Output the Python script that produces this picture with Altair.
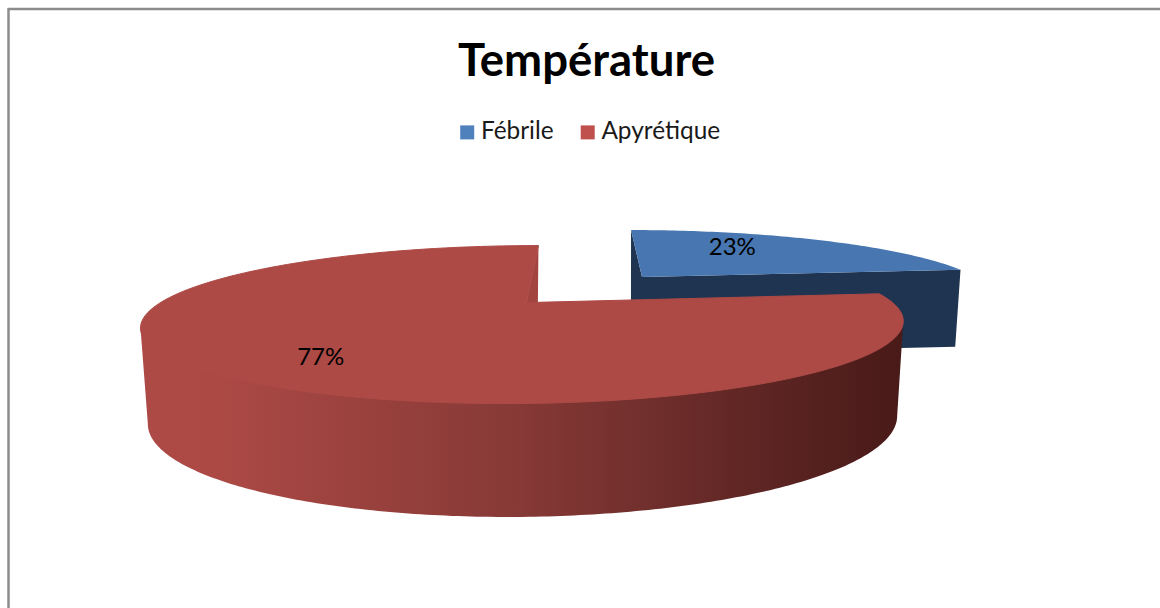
import altair as alt
import numpy as np
import pandas as pd

# Values of the chart
categories = ["Fébrile", "Apyrétique"]
shares = [23, 77]
labels = ["23%", "77%"]
legend_colors = ["#4F81BD", "#C0504D"]

CANVAS_W, CANVAS_H = 1160, 608
DEPTH_K = 0.278  # perspective strength of the tilted disc

# Projection planes of the two exploded slices: vertex, semi-axes, skew
RED_TOP = dict(x0=526.5, y0=302.6, a=366, b=72.9, c=15.3)
RED_LOW = dict(x0=526.7, y0=393, a=359.6, b=89.5, c=14)
BLUE_TOP = dict(x0=642, y0=277, a=334, b=60, c=-14)
BLUE_LOW = dict(x0=638, y0=354, a=332, b=60, c=-9)


def project(plane, angle_deg, r=1.0):
    """Clockwise angle from twelve o'clock to canvas coordinates."""
    t = np.radians(np.asarray(angle_deg, dtype=float))
    u, v = r * np.sin(t), r * np.cos(t)
    s = 1 / (1 + DEPTH_K * v)
    return plane["x0"] + (plane["a"] * u + plane["c"] * v) * s, plane["y0"] - plane["b"] * v * s


def polygon(xs, ys):
    return pd.DataFrame({"x": xs, "y": ys, "i": np.arange(len(xs))})


def silhouette(plane, start, stop):
    """Arc of a plane between its rightmost and leftmost points."""
    t = np.linspace(start, stop, 721)
    x, _ = project(plane, t)
    t = np.linspace(t[np.argmax(x)], t[np.argmin(x)], 200)
    return project(plane, t)


blue_end = 360 * shares[0] / sum(shares)

x_scale = alt.Scale(domain=[0, CANVAS_W], range=[0, CANVAS_W], nice=False, zero=False)
y_scale = alt.Scale(domain=[0, CANVAS_H], range=[0, CANVAS_H], nice=False, zero=False)
x_enc = alt.X("x:Q", scale=x_scale, axis=None)
y_enc = alt.Y("y:Q", scale=y_scale, axis=None)


def face(df, fill, edge=None):
    style = dict(stroke=edge, strokeWidth=1) if edge else dict(stroke=None, strokeWidth=0)
    return alt.Chart(df).mark_line(fill=fill, **style).encode(x=x_enc, y=y_enc, order="i:Q")


# Blue slice: dark walls, then its top face
bx0, by0 = project(BLUE_TOP, 0)
bx1, by1 = project(BLUE_TOP, blue_end)
lx0, ly0 = project(BLUE_LOW, 0)
lx1, ly1 = project(BLUE_LOW, blue_end)
blue_wall = polygon(
    [bx0, BLUE_TOP["x0"], bx1, lx1, BLUE_LOW["x0"], lx0],
    [by0, BLUE_TOP["y0"], by1, ly1, BLUE_LOW["y0"], ly0],
)
ax, ay = project(BLUE_TOP, np.linspace(0, blue_end, 80))
blue_top = polygon(np.r_[BLUE_TOP["x0"], ax], np.r_[BLUE_TOP["y0"], ay])

# Red slice: curved wall with shading, inner cut wall, top face.
# The wall's upper side is a chord because the top face covers it.
tx, ty = silhouette(RED_TOP, blue_end, 360)
wx, wy = silhouette(RED_LOW, blue_end, 360)
red_wall = polygon(np.r_[tx[0], tx[-1], wx[::-1]], np.r_[ty[0], ty[-1], wy[::-1]])
rx0, ry0 = project(RED_TOP, 0)
rl0, rm0 = project(RED_LOW, 0)
red_cut = polygon([RED_TOP["x0"], rx0, rl0], [RED_TOP["y0"], ry0, rm0])
qx, qy = project(RED_TOP, np.linspace(blue_end, 360, 240))
red_top = polygon(
    np.r_[RED_TOP["x0"], qx, RED_TOP["x0"]],
    np.r_[RED_TOP["y0"], qy, RED_TOP["y0"]],
)

wall_shade = alt.Gradient(
    gradient="linear",
    x1=0, x2=1, y1=0, y2=0,
    stops=[
        alt.GradientStop(offset=0.0, color="#AE4A46"),
        alt.GradientStop(offset=0.1, color="#AC4945"),
        alt.GradientStop(offset=0.5, color="#863936"),
        alt.GradientStop(offset=0.8, color="#5F2624"),
        alt.GradientStop(offset=1.0, color="#481A18"),
    ],
)

# Percentage labels sit at the middle angle of each slice
mid_blue = blue_end / 2
mid_red = blue_end + (360 - blue_end) / 2
lx_b, ly_b = project(BLUE_TOP, mid_blue, 0.5)
lx_r, ly_r = project(RED_TOP, mid_red, 0.7)
label_df = pd.DataFrame({
    "x": [lx_b - 5, lx_r + 2],
    "y": [ly_b - 9, ly_r + 11],
    "label": labels,
})
label_layer = alt.Chart(label_df).mark_text(
    font="Lato", fontSize=24, color="#000000", align="center", baseline="middle"
).encode(x=x_enc, y=y_enc, text="label:N")

# Hidden points that only feed the legend
legend_df = pd.DataFrame({"category": categories, "x": [0, 0], "y": [0, 0]})
legend_layer = alt.Chart(legend_df).mark_square(opacity=0).encode(
    x=x_enc,
    y=y_enc,
    color=alt.Color(
        "category:N",
        scale=alt.Scale(domain=categories, range=legend_colors),
        legend=alt.Legend(
            title=None,
            orient="none",
            legendX=455,
            legendY=120,
            direction="horizontal",
            symbolType="square",
            symbolSize=196,
            symbolOpacity=1,
            symbolStrokeWidth=0,
            labelFont="Lato",
            labelFontSize=24.4,
            labelColor="#1A1A1A",
            labelOffset=1.5,
            columnPadding=21.5,
            padding=0,
        ),
    ),
)

# Chart area frame, open on the right and at the bottom
frame_top = alt.Chart(pd.DataFrame({"x": [8, CANVAS_W], "y": [9, 9]})).mark_line(
    color="#8C8C8C", strokeWidth=2.5
).encode(x=x_enc, y=y_enc)
frame_left = alt.Chart(pd.DataFrame({"x": [8.5, 8.5], "y": [8, CANVAS_H]})).mark_line(
    color="#8C8C8C", strokeWidth=2.5
).encode(x=x_enc, y=y_enc)

chart = alt.layer(
    frame_top,
    frame_left,
    face(blue_wall, "#1E3450"),
    face(blue_top, "#4776B0"),
    face(red_wall, wall_shade),
    face(red_cut, "#A24440"),
    face(red_top, "#AD4A46", edge="#AD4A46"),
    label_layer,
    legend_layer,
).properties(
    width=CANVAS_W,
    height=CANVAS_H,
    padding=0,
    background="#FFFFFF",
    autosize=alt.AutoSizeParams(type="none"),
    title=alt.TitleParams(
        "Température",
        font="Lato",
        fontSize=45.5,
        fontWeight="bold",
        color="#000000",
        anchor="middle",
        dx=6.5,
        dy=92,
    ),
).configure_view(strokeWidth=0)

chart.save("out.html", embed_options={"renderer": "svg", "actions": False})
